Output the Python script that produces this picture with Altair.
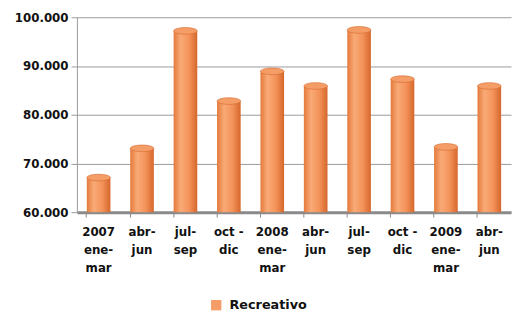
import json
import altair as alt
import pandas as pd

keys = ["Q1", "Q2", "Q3", "Q4", "Q5", "Q6", "Q7", "Q8", "Q9", "Q10"]
labels = [["2007", "ene-", "mar"], ["abr-", "jun"], ["jul-", "sep"], ["oct -", "dic"],
          ["2008", "ene-", "mar"], ["abr-", "jun"], ["jul-", "sep"], ["oct -", "dic"],
          ["2009", "ene-", "mar"], ["abr-", "jun"]]
values = [67100, 73100, 97200, 82800, 88900, 85900, 97400, 87300, 73400, 85900]
series = "Recreativo"
y_ticks = [60000, 70000, 80000, 90000, 100000]

df = pd.DataFrame({"key": keys, "value": values, "series": series})

label_expr = " : ".join(
    f"datum.value == '{k}' ? {json.dumps(l)}" for k, l in zip(keys, labels)
) + " : ''"

FONT = "DejaVu Sans"

x = alt.X("key:N", sort=keys, title=None,
          scale=alt.Scale(paddingInner=0.45, paddingOuter=0.225),
          axis=alt.Axis(labelExpr=label_expr, labelAngle=0, labelFont=FONT,
                        labelFontSize=12, labelFontWeight="bold", labelColor="#111",
                        labelLineHeight=18, labelPadding=10, labelBaseline="top",
                        bandPosition=0, tickColor="#888", tickSize=5,
                        domainColor="#8a8a8a", domainWidth=3, grid=False))
y_scale = alt.Scale(domain=[60000, 100000], zero=False, nice=False)
y = alt.Y("value:Q", scale=y_scale, title=None,
          axis=alt.Axis(values=y_ticks,
                        labelExpr="replace(format(datum.value, ','), ',', '.')",
                        labelFont=FONT, labelFontSize=12, labelFontWeight="bold",
                        labelColor="#111", labelPadding=3, tickSize=6,
                        tickColor="#999", domainColor="#999", gridColor="#9a9a9a",
                        gridWidth=1))

grad = alt.Gradient(gradient="linear", x1=0, x2=1, y1=0, y2=0,
                    stops=[alt.GradientStop(color="#E47A3C", offset=0),
                           alt.GradientStop(color="#F9AA76", offset=0.3),
                           alt.GradientStop(color="#F4935A", offset=0.65),
                           alt.GradientStop(color="#D5672C", offset=1)])

bars = alt.Chart(df).mark_bar(size=24, fill=grad).encode(
    x=x, y=y, y2=alt.datum(60000))

ellipse = "M-1,0A1,0.28,0,1,0,1,0A1,0.28,0,1,0,-1,0Z"
tops = alt.Chart(df).mark_point(shape=ellipse, size=576, filled=True, opacity=1,
                                stroke="#D56A30", strokeWidth=0.6).encode(
    x=x, y=y,
    color=alt.Color("series:N", scale=alt.Scale(range=["#F59D67"]),
                    legend=alt.Legend(title=None, orient="none", legendX=135,
                                      legendY=286, symbolType="square",
                                      symbolSize=110, symbolStrokeWidth=0,
                                      labelFont=FONT, labelFontSize=13,
                                      labelFontWeight="bold", labelColor="#111",
                                      labelOffset=7)))

chart = alt.layer(bars, tops).properties(
    width=441, height=198,
    autosize=alt.AutoSizeParams(type="none"),
    padding={"left": 70, "top": 7, "right": 2, "bottom": 99},
).configure_view(stroke=None)

chart.save("out.html", embed_options={"renderer": "svg", "actions": False})
